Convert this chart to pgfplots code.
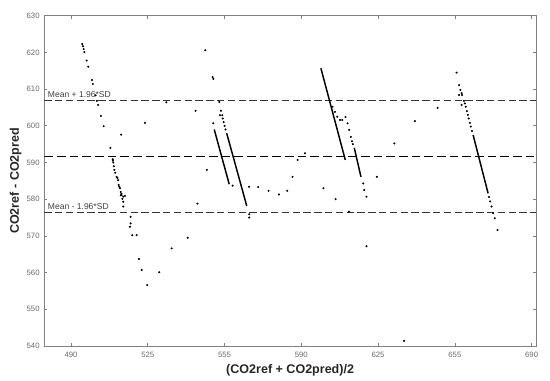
\documentclass[border=0pt]{standalone}
\usepackage{pgfplots}
\pgfplotsset{compat=1.18}
\usepackage{fontspec}
\setmainfont{Liberation Sans}
\definecolor{framegray}{RGB}{128,128,128}
\definecolor{ticktext}{RGB}{105,105,105}
\begin{document}
\begin{tikzpicture}
\begin{axis}[
    scale only axis,
    width=368.8pt,
    height=247.7pt,
    xmin=478.4, xmax=691.9,
    ymin=540, ymax=630,
    xtick={490,523.333,556.667,590,623.333,656.667,690},
    xticklabels={490,525,555,590,625,655,690},
    ytick={540,550,...,630},
    tick pos=both,
    tick align=inside,
    major tick length=2.4pt,
    axis line style={framegray, line width=0.6pt},
    tick style={framegray, line width=0.5pt},
    /pgf/number format/assume math mode=true,
    ticklabel style={font=\fontsize{5.8}{6.5}\selectfont, text=ticktext},
    xticklabel style={yshift=-1pt},
    xlabel={(CO2ref + CO2pred)/2},
    ylabel={CO2ref - CO2pred},
    label style={font=\fontsize{9.4}{11}\selectfont\bfseries, text=black!85},
    xlabel style={yshift=2pt},
    ylabel style={yshift=-3pt},
]
% limits of agreement
\addplot[black!80, line width=0.55pt, dash pattern=on 5.5pt off 2.6pt] coordinates {(478.4,607.0) (691.9,607.0)};
\addplot[black, line width=0.9pt, dash pattern=on 6.5pt off 3pt] coordinates {(478.4,591.7) (691.9,591.7)};
\addplot[black!80, line width=0.55pt, dash pattern=on 5.5pt off 2.6pt] coordinates {(478.4,576.4) (691.9,576.4)};
\node[anchor=south west, inner sep=0.5pt, text=black!75, font=\fontsize{6.4}{7}\selectfont] at (axis cs:479.6,607.4) {Mean + 1.96*SD};
\node[anchor=south west, inner sep=0.5pt, text=black!75, font=\fontsize{6.4}{7}\selectfont] at (axis cs:479.6,576.8) {Mean - 1.96*SD};

% dense runs of points
\addplot[black, line width=1.1pt] coordinates {(552.2,599.0) (558.7,584.1)};
\addplot[black, line width=1.1pt] coordinates {(557.6,598.0) (566.3,578.2)};
\addplot[black, line width=1.1pt] coordinates {(598.5,615.7) (609.1,590.7)};
\addplot[black, line width=1.1pt] coordinates {(613.0,594.0) (615.9,586.1)};
\addplot[black, line width=1.1pt] coordinates {(664.6,597.5) (671.1,581.6)};

% single points
\addplot[only marks, mark=*, mark size=0.55pt, black] coordinates {
    (494.9,622.3) (495.2,621.7) (495.5,620.9) (495.8,620.1) (496.8,617.8)
    (497.5,616.1) (499.1,612.5) (499.5,611.4) (500.7,608.3) (501.2,606.8)
    (501.8,605.7) (503.0,602.7) (504.2,599.9) (507.1,594.0) (511.8,597.6)
    (508.1,590.9) (508.2,590.5) (508.4,590.0) (508.6,589.0) (508.8,588.0)
    (509.2,587.2) (509.8,586.1) (510.2,585.8) (510.5,585.2) (510.7,583.9)
    (511.0,583.4) (511.3,583.0) (511.6,582.0) (511.9,581.5) (511.6,581.1)
    (513.4,580.9) (512.0,581.1) (512.3,580.1) (512.7,580.7) (512.7,579.3)
    (512.7,578.0)
    (515.9,575.2) (515.9,573.4) (515.6,572.5) (516.6,570.2) (518.5,570.2)
    (519.5,563.7) (520.7,560.7) (523.1,556.6) (528.3,560.1) (533.7,566.6)
    (540.7,569.5) (544.9,578.8) (522.1,600.8) (531.4,606.4) (544.1,604.1)
    (548.3,620.6) (551.5,613.3) (551.8,612.8) (554.4,606.5) (555.1,604.1)
    (554.7,602.9) (555.7,602.9) (551.8,600.7) (549.0,588.0)
    (555.9,602.0) (556.3,601.0) (556.7,600.0) (557.1,599.0)
    (560.2,583.7) (567.3,583.4) (571.3,583.3) (575.8,582.3) (580.3,581.3)
    (583.9,582.3) (586.2,586.1) (588.4,590.7) (591.6,592.5)
    (567.4,575.9) (567.4,575.0)
    (603.6,605.2) (604.6,603.8) (605.6,602.5) (606.8,601.6) (607.8,601.6)
    (609.2,602.4) (610.1,600.7) (610.8,598.9) (611.5,597.0) (612.0,595.8)
    (612.4,595.0) (616.9,584.3) (617.3,582.5) (618.3,580.7)
    (599.6,583.0) (604.9,580.0) (610.7,576.6) (622.8,586.1) (630.4,595.2)
    (618.3,567.2) (634.6,541.4) (639.3,601.3) (649.2,604.9)
    (657.4,614.5) (658.5,611.1) (659.1,609.8) (659.6,608.9) (659.8,608.4)
    (658.5,608.4) (659.6,605.7) (660.6,606.8) (661.0,606.1)
    (661.4,605.2) (661.9,604.0) (662.3,603.0) (662.7,602.0) (663.2,600.8)
    (663.6,599.8) (664.1,598.6)
    (671.5,580.6) (672.0,579.4) (672.6,578.0) (673.3,576.2) (674.0,574.8)
    (675.2,571.6)
};
\coordinate (bbsw) at (rel axis cs:0,0);
\end{axis}
\path (bbsw) ++(-33.2pt,-26.25pt) rectangle ++(412.5pt,285.75pt);
\end{tikzpicture}
\end{document}
